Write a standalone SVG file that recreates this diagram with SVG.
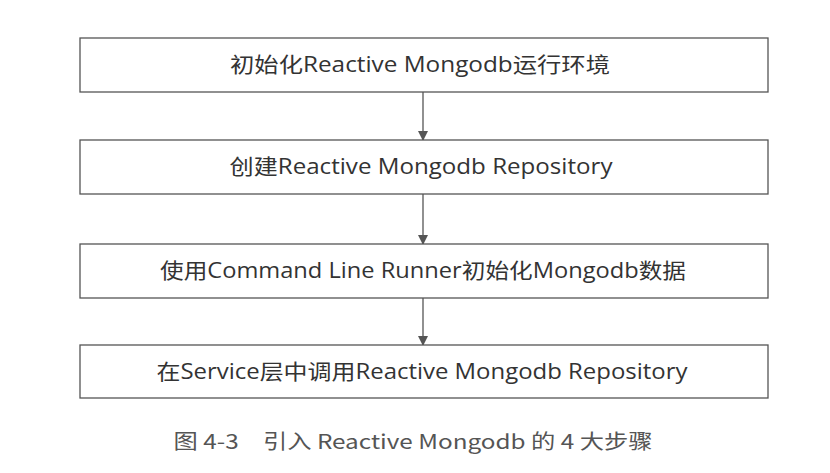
<svg xmlns="http://www.w3.org/2000/svg" width="830" height="473" viewBox="0 0 830 473">
<style>
.box{fill:#fff;stroke:#555;stroke-width:1.3}
.t{font-family:"Open Sans","Noto Sans CJK SC",sans-serif;font-size:21px;fill:#333;text-anchor:middle}
.c{stroke:#555;stroke-width:1.3;fill:none;marker-end:url(#a)}
</style>
<defs><marker id="a" markerWidth="10" markerHeight="10" refX="9" refY="5" orient="auto" markerUnits="userSpaceOnUse"><path d="M0,0 L10,5 L0,10 Z" fill="#555"/></marker></defs>
<rect width="830" height="473" fill="#fff"/>
<g id="connectors">
<line class="c" x1="423" y1="92" x2="423" y2="140"/>
<line class="c" x1="423" y1="194" x2="423" y2="244"/>
<line class="c" x1="423" y1="298" x2="423" y2="345"/>
</g>
<g id="n1"><rect class="box" x="80" y="38" width="688" height="54"/><text class="t" x="420" y="72" textLength="380" lengthAdjust="spacingAndGlyphs">初始化Reactive Mongodb运行环境</text></g>
<g id="n2"><rect class="box" x="80" y="140" width="688" height="54"/><text class="t" x="421" y="174" textLength="383" lengthAdjust="spacingAndGlyphs">创建Reactive Mongodb Repository</text></g>
<g id="n3"><rect class="box" x="80" y="244" width="688" height="54"/><text class="t" x="423" y="278" textLength="526" lengthAdjust="spacingAndGlyphs">使用Command Line Runner初始化Mongodb数据</text></g>
<g id="n4"><rect class="box" x="80" y="345" width="688" height="53"/><text class="t" x="422" y="379" textLength="531" lengthAdjust="spacingAndGlyphs">在Service层中调用Reactive Mongodb Repository</text></g>
<text x="413" y="449" textLength="479" lengthAdjust="spacingAndGlyphs" style="font-family:'Noto Sans CJK SC',sans-serif;font-size:20px;fill:#555;text-anchor:middle">图 4-3　引入 Reactive Mongodb 的 4 大步骤</text>
</svg>
